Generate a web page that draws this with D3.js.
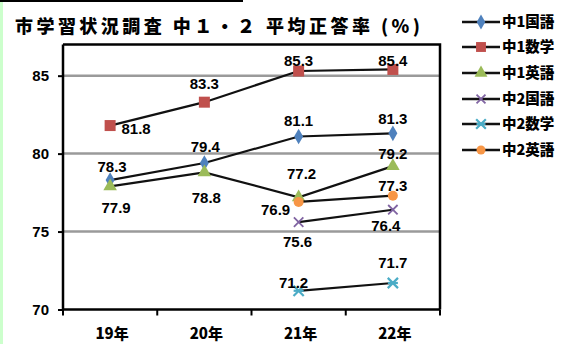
<!DOCTYPE html>
<html>
<head>
<meta charset="utf-8">
<script src="https://cdn.jsdelivr.net/npm/d3@7/dist/d3.min.js"></script>
<style>
  html, body { margin: 0; padding: 0; background: #fff; }
  svg { display: block; }
</style>
</head>
<body>
<svg id="chart" width="561" height="344"></svg>
<script>
// School years on the x axis
const years = ["19年", "20年", "21年", "22年"];

// Average correct-answer rate (%) per subject; null = not surveyed that year
const seriesNames = ["中1国語", "中1数学", "中1英語", "中2国語", "中2数学", "中2英語"];
const j1Japanese = [78.3, 79.4, 81.1, 81.3];
const j1Math     = [81.8, 83.3, 85.3, 85.4];
const j1English  = [77.9, 78.8, 77.2, 79.2];
const j2Japanese = [null, null, 75.6, 76.4];
const j2Math     = [null, null, 71.2, 71.7];
const j2English  = [null, null, 76.9, 77.3];
const seriesValues = [j1Japanese, j1Math, j1English, j2Japanese, j2Math, j2English];

const yTicks = [70, 75, 80, 85];
const gridValues = [75, 80, 85];

// Presentation
const colors  = ["#4F81BD", "#C0504D", "#9BBB59", "#8064A2", "#4BACC6", "#F79646"];
const symbols = ["diamond", "square", "triangle", "cross", "star", "circle"];
// label offsets from each point [dx, dy] (text centre)
const labelOffsets = [
  [[2, -14], [1, -16], [0, -16], [0, -15]],
  [[26, 3], [0, -19], [0, -10], [0, -9]],
  [[6, 21], [2, 25], [3, -24], [0, -12]],
  [null, null, [-1, 19], [-7, 16]],
  [null, null, [-5, -8], [0, -20]],
  [null, null, [-23, 8], [0, -10]]
];

const svg = d3.select("#chart");
const plot = { left: 63, right: 440, top: 44.5, bottom: 309.5 };

const x = d3.scaleBand().domain(years).range([plot.left, plot.right]);
const y = d3.scaleLinear().domain([70, 87]).range([plot.bottom, plot.top]);
const cx = d => x(d) + x.bandwidth() / 2;

const numFont = "'Liberation Sans', Arial, sans-serif";
const cjkFont = "'Noto Sans CJK JP', 'Noto Sans CJK SC', sans-serif";

// Left edge strip and top rule
svg.append("rect").attr("x", 0).attr("y", 0).attr("width", 3).attr("height", 344).attr("fill", "#ccffcc");
svg.append("line").attr("x1", 0).attr("x2", 243).attr("y1", 1).attr("y2", 1)
  .attr("stroke", "#000").attr("stroke-width", 2);

// Title
svg.append("text")
  .attr("x", 15).attr("y", 33)
  .attr("textLength", 405).attr("lengthAdjust", "spacing")
  .attr("font-family", cjkFont).attr("font-weight", 900).attr("font-size", 18)
  .attr("fill", "#000")
  .text("市学習状況調査 中１・２ 平均正答率 (%)");

// Gridlines
svg.append("g").selectAll("line").data(gridValues).join("line")
  .attr("x1", plot.left).attr("x2", plot.right)
  .attr("y1", d => y(d)).attr("y2", d => y(d))
  .attr("stroke", "#9a9a9a").attr("stroke-width", 2.5);

// Plot frame (top and right)
svg.append("path")
  .attr("d", `M${plot.left},${plot.top}H${plot.right}V${plot.bottom}`)
  .attr("fill", "none").attr("stroke", "#000").attr("stroke-width", 2.5);

// Y axis
const yAxis = d3.axisLeft(y).tickValues(yTicks).tickSize(5).tickPadding(9).tickFormat(d3.format("d"));
const gy = svg.append("g").attr("transform", `translate(${plot.left},0)`).call(yAxis);
gy.select(".domain").attr("stroke", "#000").attr("stroke-width", 2.5)
  .attr("d", `M0,${plot.top}V${plot.bottom}`);
gy.selectAll(".tick line").attr("stroke", "#000").attr("stroke-width", 2);
gy.selectAll(".tick text").attr("font-family", numFont).attr("font-weight", "bold")
  .attr("font-size", 15).attr("fill", "#000");

// X axis with ticks on category boundaries
svg.append("line").attr("x1", plot.left).attr("x2", plot.right)
  .attr("y1", plot.bottom).attr("y2", plot.bottom)
  .attr("stroke", "#000").attr("stroke-width", 2.5);
const boundaries = years.map(d => x(d)).concat([plot.right]);
svg.append("g").selectAll("line").data(boundaries).join("line")
  .attr("x1", d => d).attr("x2", d => d)
  .attr("y1", plot.bottom).attr("y2", plot.bottom + 6)
  .attr("stroke", "#000").attr("stroke-width", 2);
svg.append("g").selectAll("text").data(years).join("text")
  .attr("x", d => cx(d) + 2).attr("y", plot.bottom + 29)
  .attr("text-anchor", "middle")
  .attr("font-family", cjkFont).attr("font-weight", 900).attr("font-size", 15)
  .attr("fill", "#000")
  .text(d => d);

// Marker shapes
function marker(g, type, color, s) {
  if (type === "diamond") {
    g.append("path").attr("d", d3.symbol(d3.symbolDiamond, s * 7)()).attr("fill", color);
  } else if (type === "square") {
    g.append("rect").attr("x", -s * 0.55).attr("y", -s * 0.55).attr("width", s * 1.1).attr("height", s * 1.1).attr("fill", color);
  } else if (type === "triangle") {
    g.append("path").attr("d", d3.symbol(d3.symbolTriangle, s * 8)()).attr("fill", color);
  } else if (type === "cross") {
    g.append("path").attr("d", d3.symbol(d3.symbolTimes, s * 6)())
      .attr("fill", "none").attr("stroke", color).attr("stroke-width", 1.8);
  } else if (type === "star") {
    g.append("path").attr("d", d3.symbol(d3.symbolTimes, s * 7)())
      .attr("fill", "none").attr("stroke", color).attr("stroke-width", 2.2);
    g.append("line").attr("x1", -s * 0.5).attr("x2", s * 0.5)
      .attr("stroke", color).attr("stroke-width", 2.2);
  } else {
    g.append("circle").attr("r", s * 0.5).attr("fill", color);
  }
}

// Series lines, markers and value labels
const line = d3.line().defined(d => d.v != null).x(d => cx(d.year)).y(d => y(d.v));
seriesNames.forEach((name, i) => {
  const pts = years.map((yr, k) => ({ year: yr, v: seriesValues[i][k], k }));
  svg.append("path").datum(pts)
    .attr("d", line)
    .attr("fill", "none").attr("stroke", "#111").attr("stroke-width", 2.2);
  const valid = pts.filter(p => p.v != null);
  valid.forEach(p => {
    const g = svg.append("g").attr("transform", `translate(${cx(p.year)},${y(p.v)})`);
    marker(g, symbols[i], colors[i], 10);
  });
  valid.forEach(p => {
    const off = labelOffsets[i][p.k];
    svg.append("text")
      .attr("x", cx(p.year) + off[0]).attr("y", y(p.v) + off[1])
      .attr("dy", "0.36em").attr("text-anchor", "middle")
      .attr("font-family", numFont).attr("font-weight", "bold").attr("font-size", 15)
      .attr("fill", "#000")
      .text(d3.format(".1f")(p.v));
  });
});

// Legend
const legendY = [22, 47, 73, 99, 124, 150];
seriesNames.forEach((name, i) => {
  const g = svg.append("g").attr("transform", `translate(462,${legendY[i]})`);
  g.append("line").attr("x1", 0).attr("x2", 38).attr("stroke", "#111").attr("stroke-width", 2.5);
  const m = g.append("g").attr("transform", "translate(19,0)");
  marker(m, symbols[i], colors[i], 9);
  g.append("text").attr("x", 40).attr("dy", "0.36em")
    .attr("font-family", cjkFont).attr("font-weight", 900).attr("font-size", 14.5)
    .attr("fill", "#000")
    .text(name);
});
</script>
</body>
</html>
